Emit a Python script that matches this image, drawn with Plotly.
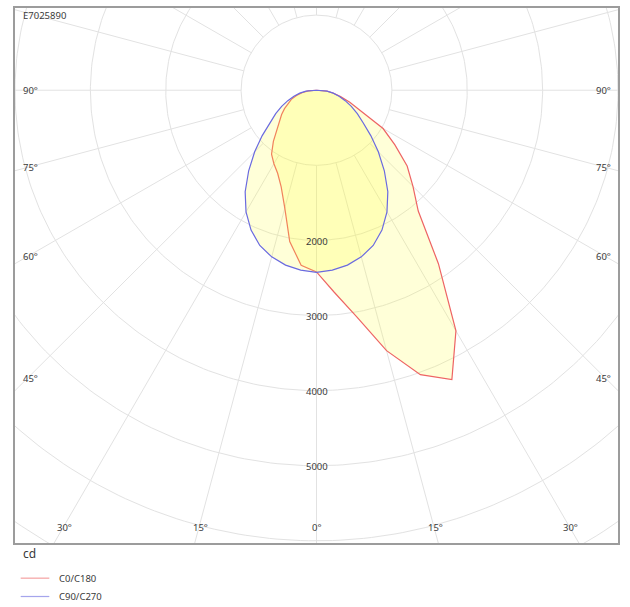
import numpy as np
import plotly.graph_objects as go

# ---------------- data (luminous intensity, cd) ----------------
gamma = [0, 5, 10, 15, 20, 25, 30, 35, 40, 45, 50, 55, 60, 65, 70, 75, 80, 85, 90]
c0    = [2420, 2700, 3060, 3590, 4030, 4250, 3700, 2820, 2100, 1810, 1570, 1270, 1020, 640, 470, 330, 230, 140, 0]
c180  = [2420, 2340, 2045, 1625, 1370, 1220, 1130, 1040, 890, 755, 640, 565, 490, 420, 355, 275, 195, 110, 0]
c90   = [2425, 2405, 2365, 2297, 2200, 2055, 1870, 1650, 1400, 1160, 940, 755, 625, 510, 405, 310, 225, 140, 0]
c270  = [2425, 2405, 2365, 2297, 2200, 2055, 1870, 1650, 1400, 1160, 940, 755, 625, 510, 405, 310, 225, 140, 0]

ring_values = [1000, 2000, 3000, 4000, 5000, 6000, 7000, 8000]
ring_labels = ["2000", "3000", "4000", "5000"]
spoke_step = 15
left_angle_labels = ["90°", "75°", "60°", "45°"]
bottom_angle_labels = ["30°", "15°", "0°", "15°", "30°"]
series_names = ["C0/C180", "C90/C270"]
title_text = "E7025890"
unit_text = "cd"

# ---------------- layout geometry ----------------
W, H = 630, 607
ML, MR, MT, MB = 15, 12, 6, 64
XR = [-4000, 4000]
YR = [-6029, 1095]
pw, ph = W - ML - MR, H - MT - MB
sx = pw / (XR[1] - XR[0])
sy = ph / (YR[1] - YR[0])

def px2x(px):
    return XR[0] + (px - ML) / sx

def py2y(py):
    return YR[1] - (py - MT) / sy

def px2paper(px):
    return (px - ML) / pw

def py2paper(py):
    return (MT + ph - py) / ph

FONT = "Noto Sans"
TXT = "#3a3a3a"
GRID = "#e2e2e2"
RED = "#ee6464"
BLUE = "#6a6ae0"
FILL = "rgba(255,255,60,0.2)"

fig = go.Figure()

# grid rings
t = np.linspace(0, 2 * np.pi, 361)
for r in ring_values:
    fig.add_trace(go.Scatter(x=r * np.sin(t), y=r * np.cos(t), mode="lines",
                             line=dict(color=GRID, width=1), hoverinfo="skip",
                             showlegend=False))
# radial spokes (from first ring outwards)
for a in range(0, 360, spoke_step):
    ar = np.radians(a)
    r0, r1 = ring_values[0], 12000
    fig.add_trace(go.Scatter(x=[r0 * np.sin(ar), r1 * np.sin(ar)],
                             y=[-r0 * np.cos(ar), -r1 * np.cos(ar)], mode="lines",
                             line=dict(color=GRID, width=1), hoverinfo="skip",
                             showlegend=False))

def closed_curve(right_vals, left_vals):
    g = np.radians(np.array(gamma, dtype=float))
    rv = np.array(right_vals, dtype=float)
    lv = np.array(left_vals, dtype=float)
    xl = -lv[::-1] * np.sin(g[::-1])
    yl = -lv[::-1] * np.cos(g[::-1])
    xr = rv * np.sin(g)
    yr = -rv * np.cos(g)
    return np.concatenate([xl, xr]), np.concatenate([yl, yr])

x0, y0 = closed_curve(c0, c180)
fig.add_trace(go.Scatter(x=x0, y=y0, mode="lines", fill="toself", fillcolor=FILL,
                         line=dict(color=RED, width=1.2), name=series_names[0],
                         showlegend=False))
x1, y1 = closed_curve(c90, c270)
fig.add_trace(go.Scatter(x=x1, y=y1, mode="lines", fill="toself", fillcolor=FILL,
                         line=dict(color=BLUE, width=1.2), name=series_names[1],
                         showlegend=False))

ann = []
# ring value labels on the 0° line
for lab in ring_labels:
    v = float(lab)
    ann.append(dict(x=0, y=-v, text=lab, showarrow=False, xanchor="center",
                    yanchor="middle", yshift=-1, font=dict(family=FONT, size=9.5, color=TXT)))

# angle labels on the frame
side_py = [88.5, 166, 255.5, 377.7]
for lab, py in zip(left_angle_labels, side_py):
    ann.append(dict(x=px2x(20.5), y=py2y(py), text=lab, showarrow=False, xanchor="left",
                    yanchor="middle", font=dict(family=FONT, size=9.5, color=TXT)))
    ann.append(dict(x=px2x(613), y=py2y(py), text=lab, showarrow=False, xanchor="right",
                    yanchor="middle", font=dict(family=FONT, size=9.5, color=TXT)))
bottom_px = [64, 200, 317, 435, 570]
for lab, px in zip(bottom_angle_labels, bottom_px):
    ann.append(dict(x=px2x(px), y=py2y(527.7), text=lab, showarrow=False, xanchor="center",
                    yanchor="middle", font=dict(family=FONT, size=9.5, color=TXT)))

# title inside frame
ann.append(dict(x=px2x(20.5), y=py2y(13.5), text=title_text, showarrow=False,
                xanchor="left", yanchor="middle", font=dict(family=FONT, size=9.5, color=TXT)))
# unit
ann.append(dict(xref="paper", yref="paper", x=px2paper(20.5), y=py2paper(553.5), text=unit_text,
                showarrow=False, xanchor="left", yanchor="middle",
                font=dict(family=FONT, size=12, color=TXT)))

# legend (manual)
shapes = []
leg_py = [578.3, 596.7]
leg_cols = [RED, BLUE]
for name, py, col in zip(series_names, leg_py, leg_cols):
    shapes.append(dict(type="line", xref="paper", yref="paper",
                       x0=px2paper(20.7), x1=px2paper(49.3), y0=py2paper(py), y1=py2paper(py),
                       line=dict(color=col, width=1.2), opacity=0.6))
    ann.append(dict(xref="paper", yref="paper", x=px2paper(57.3), y=py2paper(py), text=name,
                    showarrow=False, xanchor="left", yanchor="middle",
                    font=dict(family=FONT, size=9.5, color=TXT)))

fig.update_layout(
    width=W, height=H,
    margin=dict(l=ML, r=MR, t=MT, b=MB),
    paper_bgcolor="white", plot_bgcolor="white",
    annotations=ann, shapes=shapes, showlegend=False,
)
fig.update_xaxes(range=XR, showgrid=False, zeroline=False, showticklabels=False, ticks="",
                 showline=True, mirror=True, linecolor="#9c9c9c", linewidth=2, fixedrange=True)
fig.update_yaxes(range=YR, showgrid=False, zeroline=False, showticklabels=False, ticks="",
                 showline=True, mirror=True, linecolor="#9c9c9c", linewidth=2, fixedrange=True)

fig.write_html("out.html", config={"displayModeBar": False},
               post_script="document.body.style.margin='0';document.body.style.overflow='hidden';")
